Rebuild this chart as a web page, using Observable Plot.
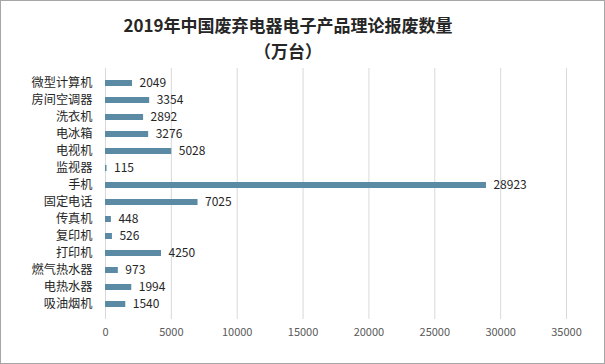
<!DOCTYPE html>
<html><head><meta charset="utf-8">
<script src="https://cdn.jsdelivr.net/npm/d3@7"></script>
<script src="https://cdn.jsdelivr.net/npm/@observablehq/plot@0.6"></script>
<style>
body{margin:0;background:#fff;}
#wrap{position:relative;width:605px;height:364px;box-sizing:border-box;border:1px solid #a6a6a6;font-family:"Noto Sans CJK SC",sans-serif;overflow:hidden;}
#title{position:absolute;left:0;width:574px;top:11px;text-align:center;font-weight:bold;font-size:17px;line-height:26px;color:#262626;}
#chart{position:absolute;left:0;top:0;}
</style></head>
<body>
<div id="wrap">
  <div id="chart"></div>
  <div id="title">2019年中国废弃电器电子产品理论报废数量<br>（万台）</div>
</div>
<script>
const categories = ["微型计算机","房间空调器","洗衣机","电冰箱","电视机","监视器","手机","固定电话","传真机","复印机","打印机","燃气热水器","电热水器","吸油烟机"];
const values = [2049,3354,2892,3276,5028,115,28923,7025,448,526,4250,973,1994,1540];
const xTicks = [0,5000,10000,15000,20000,25000,30000,35000];

const data = categories.map((c,i)=>({name:c, value:values[i]}));

const plot = Plot.plot({
  width: 603,
  height: 362,
  marginLeft: 104,
  marginRight: 38,
  marginTop: 67,
  marginBottom: 44,
  style: {fontFamily: '"Noto Sans CJK SC", sans-serif', background: "transparent"},
  x: {domain: [0,35000], ticks: xTicks, label: null},
  y: {domain: categories, padding: 0.63, label: null},
  marks: [
    Plot.gridX(xTicks, {stroke: "#d9d9d9", strokeOpacity: 1}),
    Plot.barX(data, {x: "value", y: "name", fill: "#5b8ba4"}),
    Plot.text(data, {x: "value", y: "name", text: d => String(d.value), textAnchor: "start", dx: 7, fontSize: 12, fill: "#262626"}),
    Plot.axisX({ticks: xTicks, tickSize: 0, tickPadding: 9, fontSize: 11, color: "#595959", tickFormat: d => String(d), label: null}),
    Plot.axisY({tickSize: 0, tickPadding: 13, fontSize: 12.2, color: "#262626", label: null})
  ]
});
document.getElementById("chart").appendChild(plot);
</script>
</body></html>
